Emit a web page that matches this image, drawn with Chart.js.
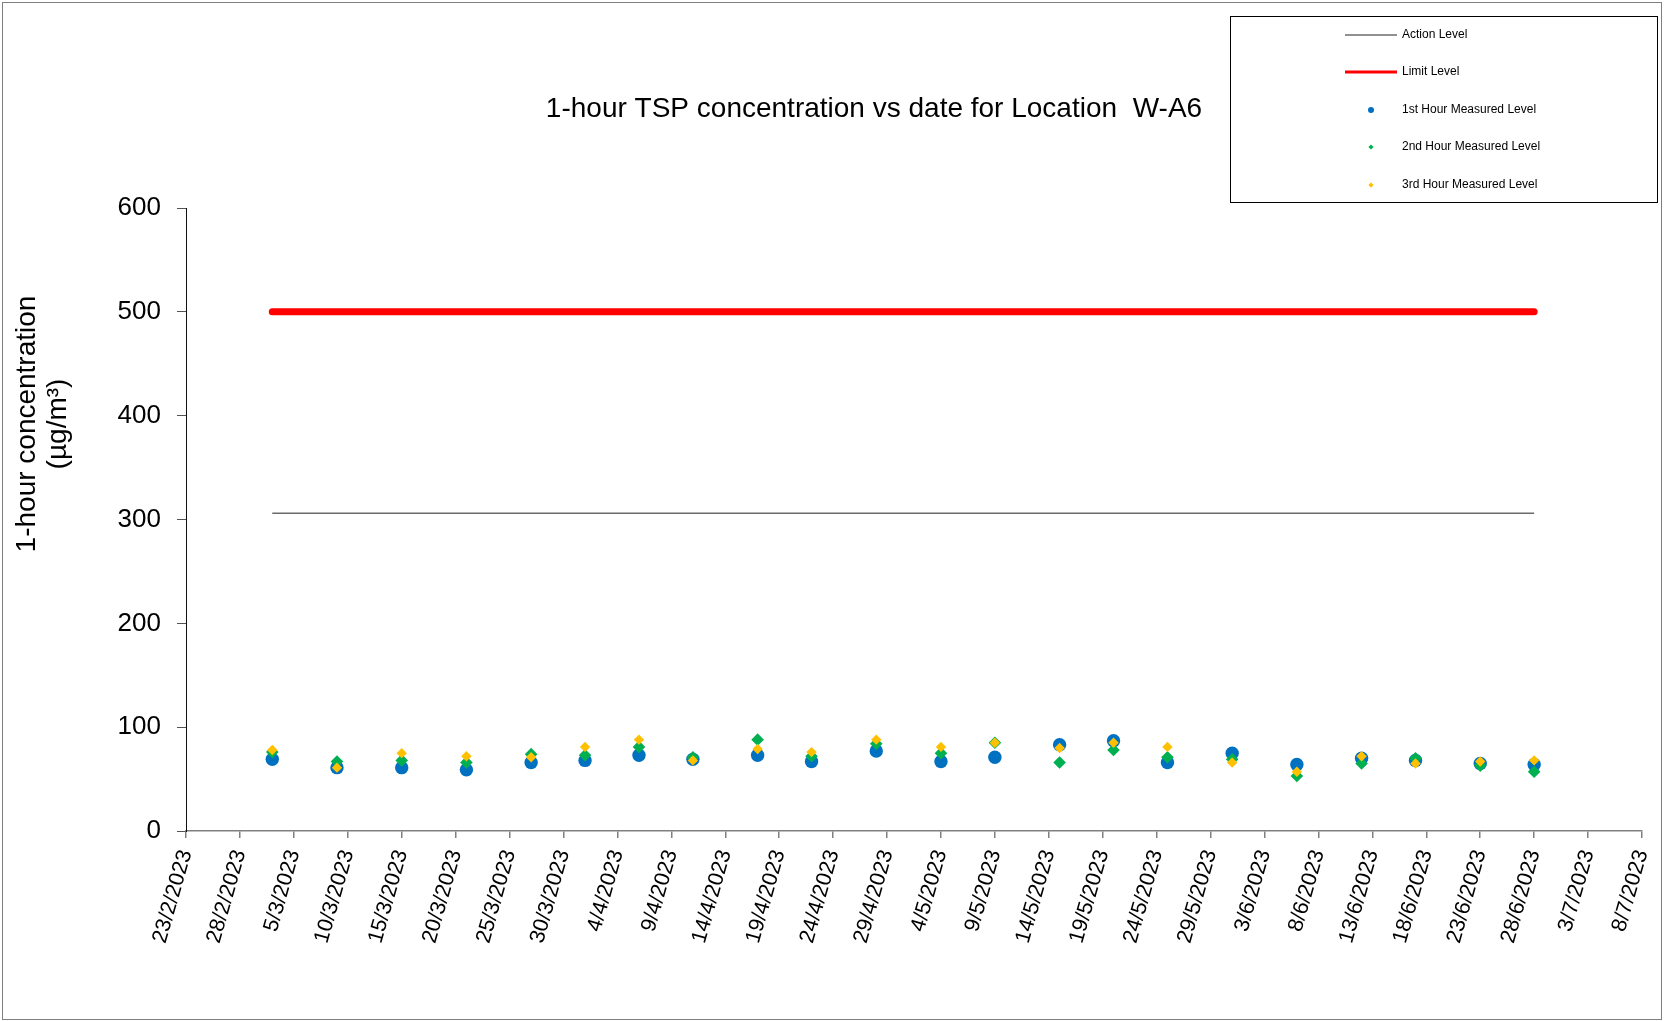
<!DOCTYPE html>
<html>
<head>
<meta charset="utf-8">
<title>1-hour TSP concentration vs date for Location W-A6</title>
<script src="https://cdn.jsdelivr.net/npm/chart.js@4.4.1/dist/chart.umd.min.js"></script>
<style>
  html, body { margin: 0; padding: 0; background: #fff; }
  canvas { display: block; }
</style>
</head>
<body>
<canvas id="tspChart" width="1664" height="1021"></canvas>
<script>
const FONT = "'Liberation Sans', Arial, sans-serif";

// x axis tick labels (every 5 days)
const tickLabels = ["23/2/2023", "28/2/2023", "5/3/2023", "10/3/2023", "15/3/2023", "20/3/2023",
  "25/3/2023", "30/3/2023", "4/4/2023", "9/4/2023", "14/4/2023", "19/4/2023", "24/4/2023",
  "29/4/2023", "4/5/2023", "9/5/2023", "14/5/2023", "19/5/2023", "24/5/2023", "29/5/2023",
  "3/6/2023", "8/6/2023", "13/6/2023", "18/6/2023", "23/6/2023", "28/6/2023", "3/7/2023", "8/7/2023"];

// monitoring dates
const dates = ["3/3/2023", "9/3/2023", "15/3/2023", "21/3/2023", "27/3/2023", "1/4/2023",
  "6/4/2023", "11/4/2023", "17/4/2023", "22/4/2023", "28/4/2023", "4/5/2023", "9/5/2023",
  "15/5/2023", "20/5/2023", "25/5/2023", "31/5/2023", "6/6/2023", "12/6/2023", "17/6/2023",
  "23/6/2023", "28/6/2023"];

const hour1 = [69, 61, 61, 59, 66, 68, 73, 69, 73, 67, 77, 67, 71, 83, 87, 66, 75, 64, 70, 68, 65, 64];
const hour2 = [76, 67, 68, 66, 74, 73, 81, 71, 88, 72, 84, 75, 85, 66, 78, 71, 69, 53, 65, 70, 63, 57];
const hour3 = [78, 61, 75, 72, 71, 81, 88, 68, 79, 76, 88, 81, 85, 80, 85, 81, 66, 57, 72, 65, 67, 68];

const actionLevel = 306;
const limitLevel = 500;

// days since first tick label
function dayOffset(s) {
  const [d, m, y] = s.split("/").map(Number);
  const [d0, m0, y0] = tickLabels[0].split("/").map(Number);
  return (Date.UTC(y, m - 1, d) - Date.UTC(y0, m0 - 1, d0)) / 86400000;
}

const xs = dates.map(dayOffset);
const toPoints = vals => vals.map((v, i) => ({ x: xs[i], y: v }));

const framePlugin = {
  id: "frame",
  afterDraw(chart) {
    const ctx = chart.ctx;
    ctx.save();

    // outer border
    ctx.strokeStyle = "#7f7f7f";
    ctx.lineWidth = 1;
    ctx.strokeRect(2.5, 2.5, 1659, 1017);

    // title
    ctx.fillStyle = "#000";
    ctx.font = "28px " + FONT;
    ctx.textAlign = "center";
    ctx.textBaseline = "middle";
    ctx.fillText("1-hour TSP concentration vs date for Location  W-A6", 874, 109);

    // y axis title
    ctx.save();
    ctx.translate(27, 424);
    ctx.rotate(-Math.PI / 2);
    ctx.fillText("1-hour concentration", 0, 0);
    ctx.fillText("(\u00b5g/m\u00b3)", 0, 31);
    ctx.restore();

    // legend
    ctx.strokeStyle = "#000";
    ctx.lineWidth = 1;
    ctx.strokeRect(1230.5, 16.5, 427, 186);
    const rows = [35, 72, 110, 147, 185];
    ctx.font = "12px " + FONT;
    ctx.textAlign = "left";
    chart.data.datasets.forEach((ds, i) => {
      const y = rows[i];
      if (ds.showLine) {
        ctx.strokeStyle = ds.legendColor || ds.borderColor;
        ctx.lineWidth = ds.legendWidth;
        ctx.beginPath();
        ctx.moveTo(1345, y);
        ctx.lineTo(1397, y);
        ctx.stroke();
      } else {
        ctx.fillStyle = ds.backgroundColor;
        Chart.helpers.drawPoint(ctx, { pointStyle: ds.pointStyle, radius: ds.legendRadius, rotation: 0, borderWidth: 0 }, 1371, y);
      }
      ctx.fillStyle = "#000";
      ctx.fillText(ds.label, 1402, y);
    });
    ctx.restore();
  }
};

new Chart(document.getElementById("tspChart"), {
  type: "scatter",
  data: {
    datasets: [
      {
        label: "Action Level",
        data: toPoints(dates.map(() => actionLevel)),
        showLine: true, borderColor: "#6a6a6a", legendColor: "#222", borderWidth: 1.3, legendWidth: 1,
        pointRadius: 0, order: 0
      },
      {
        label: "Limit Level",
        data: toPoints(dates.map(() => limitLevel)),
        showLine: true, borderColor: "#ff0000", borderWidth: 7, legendWidth: 3,
        borderCapStyle: "round", pointRadius: 0, order: 0
      },
      {
        label: "1st Hour Measured Level",
        data: toPoints(hour1),
        backgroundColor: "#0070c0", borderColor: "#0070c0", pointStyle: "circle",
        pointRadius: 6.7, pointBorderWidth: 0, legendRadius: 3, order: 3
      },
      {
        label: "2nd Hour Measured Level",
        data: toPoints(hour2),
        backgroundColor: "#00b050", borderColor: "#00b050", pointStyle: "rectRot",
        pointRadius: 6.3, pointBorderWidth: 0, legendRadius: 2.6, order: 2
      },
      {
        label: "3rd Hour Measured Level",
        data: toPoints(hour3),
        backgroundColor: "#ffc000", borderColor: "#ffc000", pointStyle: "rectRot",
        pointRadius: 5.2, pointBorderWidth: 0, legendRadius: 2.6, order: 1
      }
    ]
  },
  options: {
    responsive: false,
    animation: false,
    layout: { padding: { top: 208, right: 22, left: 0, bottom: 0 } },
    plugins: {
      legend: { display: false },
      title: { display: false },
      tooltip: { enabled: false }
    },
    scales: {
      x: {
        type: "linear",
        min: 0,
        max: dayOffset(tickLabels[tickLabels.length - 1]),
        afterBuildTicks: scale => {
          scale.ticks = tickLabels.map(t => ({ value: dayOffset(t) }));
        },
        afterFit: scale => {
          scale.height = 190;
          scale.paddingRight = 0;
          scale.paddingLeft = 0;
        },
        ticks: {
          autoSkip: false,
          minRotation: 74,
          maxRotation: 74,
          padding: 9,
          color: "#000",
          font: { family: FONT, size: 21.5 },
          callback: (v, i) => tickLabels[i]
        },
        grid: { drawOnChartArea: false, drawTicks: true, tickLength: 7, color: "#808080", lineWidth: 1.5 },
        border: { display: true, color: "#808080", width: 1.5 }
      },
      y: {
        min: 0,
        max: 600,
        afterFit: scale => { scale.width = 186; },
        ticks: {
          stepSize: 100,
          padding: 16,
          color: "#000",
          font: { family: FONT, size: 26 }
        },
        grid: { drawOnChartArea: false, drawTicks: true, tickLength: 9, color: "#555" },
        border: { display: true, color: "#111", width: 1 }
      }
    }
  },
  plugins: [framePlugin]
});
</script>
</body>
</html>
